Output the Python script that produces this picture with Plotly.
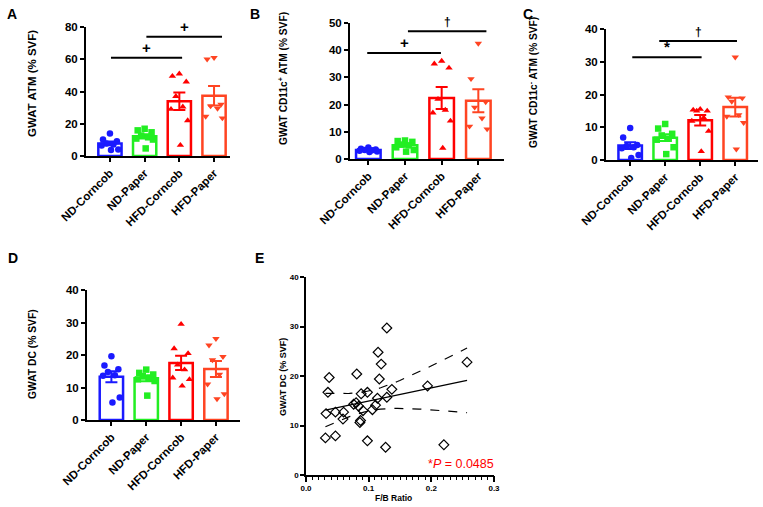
import numpy as np
import plotly.graph_objects as go

groups = ["ND-Corncob", "ND-Paper", "HFD-Corncob", "HFD-Paper"]
colors = ["#1a1aff", "#22ee22", "#ff0000", "#ff4422"]
symbols = ["circle", "square", "triangle-up", "triangle-down"]

# A: GWAT ATM (% SVF)
atm_nd_corncob = [14, 10.2, 9.2, 7.8, 7.1, 6.5, 4.1, 3.7]
atm_nd_paper = [16.9, 15.9, 14.7, 12.7, 11.6, 10.8, 10.2, 4.7]
atm_hfd_corncob = [51, 49.5, 46, 37, 30.5, 29, 22, 6.7]
atm_hfd_paper = [61, 60, 32, 31, 29.5, 24.5, 23.5]

# B: GWAT CD11c+ ATM (% SVF)
cd11cp_nd_corncob = [4.2, 3.8, 3.5, 3.3, 3.2, 3.0, 2.8, 2.6]
cd11cp_nd_paper = [6.8, 6.6, 6.3, 5.3, 5.0, 4.3, 3.3, 2.7]
cd11cp_hfd_corncob = [36, 35, 33.5, 22, 18, 17, 14, 4]
cd11cp_hfd_paper = [42.5, 29.5, 21, 19, 15, 12, 11]

# C: GWAT CD11c- ATM (% SVF)
cd11cn_nd_corncob = [9.8, 6.9, 4.6, 4.3, 3.9, 3.6, 1.5, 0.6]
cd11cn_nd_paper = [11, 9.6, 8, 7.5, 6.5, 6.2, 3.9, 1.8]
cd11cn_hfd_corncob = [15.5, 15.3, 15, 15, 12.9, 11.9, 8.8, 2.6]
cd11cn_hfd_paper = [31.4, 19.2, 18.9, 17.9, 13.8, 13.3, 11.4, 3.3]

# D: GWAT DC (% SVF)
dc_nd_corncob = [19.6, 16.8, 15.6, 14.8, 13.8, 13.6, 6.9, 5.4]
dc_nd_paper = [15.5, 14.5, 14, 13.5, 13, 12.5, 12, 7.5]
dc_hfd_corncob = [29.5, 22, 20.5, 17, 15.5, 13, 12.5, 10.5]
dc_hfd_paper = [25, 23, 19.5, 18.5, 14, 11, 8, 6.5]

# E: F/B ratio vs GWAT DC
fb_ratio = [0.129, 0.115, 0.120, 0.257, 0.081, 0.037, 0.117, 0.194, 0.035, 0.098,
            0.088, 0.137, 0.114, 0.129, 0.076, 0.080, 0.084, 0.111, 0.106, 0.091,
            0.032, 0.047, 0.060, 0.059, 0.087, 0.086, 0.031, 0.047, 0.098, 0.127,
            0.220]
gwat_dc = [29.7, 24.8, 22.4, 22.8, 20.4, 19.7, 19.4, 18.0, 16.7, 16.7,
           16.4, 17.3, 15.5, 15.7, 14.3, 14.6, 13.9, 14.1, 13.2, 13.0,
           12.4, 12.7, 12.7, 11.3, 11.0, 10.6, 7.5, 7.9, 6.9, 5.6,
           6.1]

W, H = 763, 507
FONT = "Liberation Sans, Arial, sans-serif"


def dom_x(a, b):
    return [a / W, b / W]


def dom_y(top, bottom):
    return [1 - bottom / H, 1 - top / H]


# horizontal scatter spread of points inside each bar
offsets = [0.0, -0.2, 0.2, -0.1, 0.1, -0.24, 0.24, 0.03]

panels = [
    dict(data=[atm_nd_corncob, atm_nd_paper, atm_hfd_corncob, atm_hfd_paper],
         xd=(86, 230), yd=(27, 156), yr=[0, 80], dt=20, xr=[-0.69, 3.46],
         title="GWAT ATM (% SVF)", tsize=11.5, tpos=(32, 84),
         sig=[(0.03, 2.08, 61, "+"), (1.05, 3.23, 74, "+")]),
    dict(data=[cd11cp_nd_corncob, cd11cp_nd_paper, cd11cp_hfd_corncob, cd11cp_hfd_paper],
         xd=(350, 504), yd=(23, 159), yr=[0, 50], dt=10, xr=[-0.5, 3.7],
         title="GWAT CD11c<sup>+</sup> ATM (% SVF)", tsize=10.2, tpos=(283, 79),
         sig=[(-0.03, 1.98, 39, "+"), (1.08, 3.22, 47, "†")]),
    dict(data=[cd11cn_nd_corncob, cd11cn_nd_paper, cd11cn_hfd_corncob, cd11cn_hfd_paper],
         xd=(606, 758), yd=(29, 160), yr=[0, 40], dt=10, xr=[-0.69, 3.65],
         title="GWAT CD11c<sup>-</sup> ATM (% SVF)", tsize=10.2, tpos=(533, 83),
         sig=[(0.06, 2.04, 31.4, "*"), (0.83, 3.05, 36.3, "†")]),
    dict(data=[dc_nd_corncob, dc_nd_paper, dc_hfd_corncob, dc_hfd_paper],
         xd=(87, 240), yd=(290, 420), yr=[0, 40], dt=10, xr=[-0.7, 3.69],
         title="GWAT DC (% SVF)", tsize=10.3, tpos=(32, 354), sig=[]),
]

fig = go.Figure()
shapes = []
annotations = []

for k, p in enumerate(panels):
    n = k + 1
    xa = "x" if n == 1 else f"x{n}"
    ya = "y" if n == 1 else f"y{n}"
    for i, vals in enumerate(p["data"]):
        v = np.array(vals, dtype=float)
        mean = v.mean()
        sem = v.std(ddof=1) / np.sqrt(len(v))
        fig.add_trace(go.Bar(
            x=[i], y=[mean], width=0.67, xaxis=xa, yaxis=ya,
            marker=dict(color="rgba(255,255,255,0)", line=dict(color=colors[i], width=2.5)),
            error_y=dict(type="data", array=[sem], color=colors[i], thickness=2, width=6),
            showlegend=False,
        ))
        xs = [i + offsets[j % len(offsets)] for j in range(len(v))]
        fig.add_trace(go.Scatter(
            x=xs, y=v, mode="markers", xaxis=xa, yaxis=ya, cliponaxis=False,
            marker=dict(symbol=symbols[i], size=6.5, color=colors[i]),
            showlegend=False,
        ))
    ax = dict(
        domain=dom_x(*p["xd"]), range=p["xr"], tickvals=[0, 1, 2, 3], ticktext=groups,
        tickangle=-45, showline=True, linewidth=2, linecolor="black", ticks="outside",
        ticklen=4, tickwidth=2, tickcolor="black", showgrid=False, zeroline=False,
        tickfont=dict(family=FONT, size=11.5, color="black", weight="bold"),
        anchor=ya, fixedrange=True,
    )
    ay = dict(
        domain=dom_y(*p["yd"]), range=p["yr"], dtick=p["dt"], showline=True, linewidth=2,
        linecolor="black", ticks="outside", ticklen=4, tickwidth=2, tickcolor="black",
        showgrid=False, zeroline=False, anchor=xa,
        tickfont=dict(family=FONT, size=11.5, color="black", weight="bold"),
    )
    fig.layout["xaxis" if n == 1 else f"xaxis{n}"] = ax
    fig.layout["yaxis" if n == 1 else f"yaxis{n}"] = ay
    annotations.append(dict(
        x=p["tpos"][0] / W, y=1 - p["tpos"][1] / H, xref="paper", yref="paper",
        xanchor="center", yanchor="middle",
        text=p["title"], textangle=-90, showarrow=False,
        font=dict(family=FONT, size=p["tsize"], color="black", weight="bold"),
    ))
    for x0, x1, yv, sym in p["sig"]:
        shapes.append(dict(type="line", xref=xa, yref=ya, x0=x0, x1=x1, y0=yv, y1=yv,
                           line=dict(color="black", width=2)))
        annotations.append(dict(
            x=(x0 + x1) / 2, y=yv, xref=xa, yref=ya, text=sym, showarrow=False,
            xanchor="center", yanchor="bottom", yshift=0,
            font=dict(family=FONT, size=15 if sym != "†" else 12, color="black", weight="bold"),
        ))

# panel E: scatter with linear fit and 95% confidence band
fx = np.array(fb_ratio)
fy = np.array(gwat_dc)
slope, intercept = np.polyfit(fx, fy, 1)
xg = np.linspace(fx.min(), fx.max(), 60)
yhat = slope * xg + intercept
resid = fy - (slope * fx + intercept)
s = np.sqrt(np.sum(resid ** 2) / (len(fx) - 2))
sxx = np.sum((fx - fx.mean()) ** 2)
t_crit = 2.045
half = t_crit * s * np.sqrt(1 / len(fx) + (xg - fx.mean()) ** 2 / sxx)

fig.add_trace(go.Scatter(x=xg, y=yhat + half, mode="lines", xaxis="x5", yaxis="y5",
                         line=dict(color="black", width=1.2, dash="dash"), showlegend=False))
fig.add_trace(go.Scatter(x=xg, y=yhat - half, mode="lines", xaxis="x5", yaxis="y5",
                         line=dict(color="black", width=1.2, dash="dash"), showlegend=False))
fig.add_trace(go.Scatter(x=xg, y=yhat, mode="lines", xaxis="x5", yaxis="y5",
                         line=dict(color="black", width=1.3), showlegend=False))
fig.add_trace(go.Scatter(x=fx, y=fy, mode="markers", xaxis="x5", yaxis="y5",
                         marker=dict(symbol="diamond-open", size=7.5, color="black",
                                     line=dict(width=1.2, color="black")),
                         showlegend=False))
# empty trace so the minor-tick overlay axis gets drawn
fig.add_trace(go.Scatter(x=[0, 0.3], y=[-5, -5], mode="markers", xaxis="x6", yaxis="y5",
                         marker=dict(opacity=0), showlegend=False))

small = dict(family=FONT, size=8, color="#000000", weight="bold")
fig.layout.xaxis5 = dict(
    domain=dom_x(306, 494), range=[0, 0.3], dtick=0.1, tickformat=".1f",
    showline=True, linewidth=1.5, linecolor="black", ticks="outside", ticklen=5,
    tickwidth=1.5, tickcolor="black", showgrid=False, zeroline=False, anchor="y5",
    tickfont=small,
)
fig.layout.xaxis6 = dict(
    overlaying="x5", anchor="y5", side="bottom", range=[0, 0.3], tick0=0, dtick=0.01,
    ticks="outside", ticklen=3.5, tickwidth=1.3, tickcolor="black", showticklabels=False,
    showline=False, showgrid=False, zeroline=False,
)
fig.layout.yaxis5 = dict(
    domain=dom_y(277, 475), range=[0, 40], dtick=10, showline=True, linewidth=1.5,
    linecolor="black", ticks="outside", ticklen=4, tickwidth=1.5, tickcolor="black",
    showgrid=False, zeroline=False, anchor="x5", tickfont=small,
)
annotations.append(dict(x=283 / W, y=1 - 377 / H, xref="paper", yref="paper",
                        xanchor="center", yanchor="middle",
                        text="GWAT DC (% SVF)", textangle=-90, showarrow=False,
                        font=dict(family=FONT, size=9, color="black", weight="bold")))
annotations.append(dict(x=393 / W, y=1 - 498 / H, xref="paper", yref="paper",
                        xanchor="center", yanchor="middle",
                        text="F/B Ratio", showarrow=False,
                        font=dict(family=FONT, size=8.5, color="black", weight="bold")))
annotations.append(dict(x=496 / W, y=1 - 464 / H, xref="paper", yref="paper",
                        text="*<i>P</i> = 0.0485", showarrow=False, xanchor="right",
                        yanchor="middle",
                        font=dict(family=FONT, size=12.5, color="#ff0000")))

# panel letters
for letter, lx, ly in [("A", 5, 14), ("B", 248, 14), ("C", 521, 14), ("D", 6, 258), ("E", 253, 258)]:
    annotations.append(dict(x=lx / W, y=1 - ly / H, xref="paper", yref="paper", text=letter,
                            showarrow=False, xanchor="left", yanchor="middle",
                            font=dict(family=FONT, size=14, color="black", weight="bold")))

fig.update_layout(
    width=W, height=H, autosize=False,
    margin=dict(l=0, r=0, t=0, b=0, autoexpand=False),
    paper_bgcolor="white", plot_bgcolor="white", barmode="overlay",
    shapes=shapes, annotations=annotations, hovermode=False,
)

fig.write_html("out.html", config={"displayModeBar": False},
               post_script="document.body.style.margin='0px';")
